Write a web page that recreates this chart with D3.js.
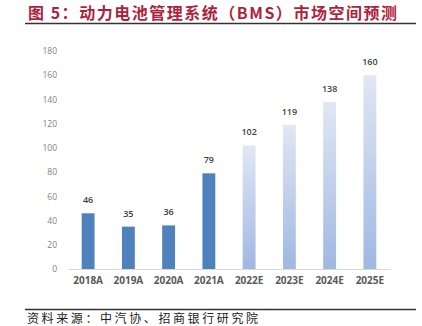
<!DOCTYPE html>
<html><head><meta charset="utf-8">
<script src="https://cdn.jsdelivr.net/npm/d3@7"></script>
<style>body{margin:0;background:#fff}</style>
</head><body>
<svg id="c" width="422" height="326"></svg>
<script>
const categories = ["2018A","2019A","2020A","2021A","2022E","2023E","2024E","2025E"];
const values = [46,35,36,79,102,119,138,160];
const isEstimate = [false,false,false,false,true,true,true,true];
const yTicks = [0,20,40,60,80,100,120,140,160,180];
const titleText = "图 5：动力电池管理系统（BMS）市场空间预测";
const sourceText = "资料来源：中汽协、招商银行研究院";

const svg = d3.select("#c");
const defs = svg.append("defs");
const g = defs.append("linearGradient").attr("id","grad").attr("x1",0).attr("y1",0).attr("x2",0).attr("y2",1);
g.append("stop").attr("offset","0%").attr("stop-color","#e1e7f4");
g.append("stop").attr("offset","100%").attr("stop-color","#9fb8e2");

const cjk = "'Noto Sans CJK SC', sans-serif";
// title
svg.append("text").attr("x",28).attr("y",19).attr("fill","#b01f3c")
  .attr("font-family",cjk).attr("font-weight","bold").attr("font-size",16)
  .attr("textLength",369).attr("lengthAdjust","spacing").text(titleText);
svg.append("line").attr("x1",25).attr("x2",416).attr("y1",23.5).attr("y2",23.5)
  .attr("stroke","#333").attr("stroke-width",1.5);

const x = d3.scaleBand().domain(categories).range([68,390]).paddingInner(0.68).paddingOuter(0.34);
const y = d3.scaleLinear().domain([0,180]).range([269,51]);

// y axis labels
const ya = svg.append("g").attr("transform","translate(57,0)")
  .call(d3.axisLeft(y).tickValues(yTicks).tickSize(0).tickPadding(0));
ya.select(".domain").remove();
ya.selectAll("text").attr("fill","#7f7f7f").attr("font-family","'Open Sans', sans-serif").attr("font-size",8.5);

// x axis
const xa = svg.append("g").attr("transform","translate(0,269)")
  .call(d3.axisBottom(x).tickSize(0).tickPadding(8));
xa.select(".domain").attr("stroke","#d9d9d9").attr("stroke-width",1);
xa.selectAll("text").attr("fill","#595959").attr("font-family","'Open Sans', sans-serif")
  .attr("font-weight","bold").attr("font-size",10);

// bars
svg.append("g").selectAll("rect").data(values).join("rect")
  .attr("x",(d,i)=>x(categories[i])).attr("width",x.bandwidth())
  .attr("y",d=>y(d)).attr("height",d=>y(0)-y(d))
  .attr("fill",(d,i)=>isEstimate[i]?"url(#grad)":"#4f81bd");

// value labels
svg.append("g").selectAll("text").data(values).join("text")
  .attr("x",(d,i)=>x(categories[i])+x.bandwidth()/2).attr("y",d=>y(d)-10)
  .attr("text-anchor","middle").attr("fill","#404040")
  .attr("font-family","'Open Sans', sans-serif").attr("font-weight","600").attr("font-size",9)
  .text(d=>d);

// source
svg.append("line").attr("x1",25).attr("x2",416).attr("y1",309.5).attr("y2",309.5)
  .attr("stroke","#333").attr("stroke-width",1.5);
svg.append("text").attr("x",27).attr("y",323).attr("fill","#222")
  .attr("font-family",cjk).attr("font-size",12)
  .attr("textLength",231).attr("lengthAdjust","spacing").text(sourceText);
</script>
</body></html>
